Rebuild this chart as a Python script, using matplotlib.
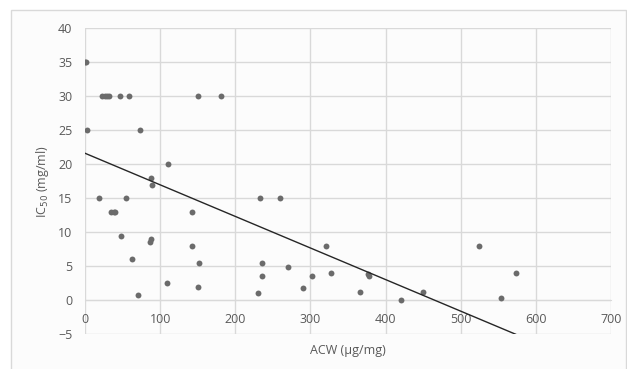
import numpy as np
import matplotlib.pyplot as plt
from matplotlib.patches import Rectangle

plt.rcParams['font.family'] = ['Open Sans', 'DejaVu Sans']

# ACW (µg/mg) vs IC50 (mg/ml)
acw = [0, 1, 22, 26, 29, 32, 47, 58, 151, 181,
       3, 73, 111, 88, 89, 19, 54, 233, 260,
       35, 38, 40, 143, 48, 88, 87, 142, 63, 152,
       71, 109, 151, 235, 270, 235, 230, 290, 302,
       321, 327, 377, 378, 366, 421, 450, 524, 554, 573]
ic50 = [35, 35, 30, 30, 30, 30, 30, 30, 30, 30,
        25, 25, 20, 18, 17, 15, 15, 15, 15,
        13, 13, 13, 13, 9.5, 9, 8.5, 8, 6, 5.5,
        0.8, 2.5, 2, 5.5, 4.9, 3.5, 1.1, 1.8, 3.5,
        8, 4, 3.8, 3.5, 1.2, 0, 1.2, 8, 0.4, 4]

# linear trendline
trend_intercept = 21.6
trend_slope = -0.0464

xticks = [0, 100, 200, 300, 400, 500, 600, 700]
yticks = [-5, 0, 5, 10, 15, 20, 25, 30, 35, 40]

fig = plt.figure(figsize=(6.27, 3.69), dpi=100)
fig.patches.append(Rectangle((11 / 627, -0.05), 615 / 627, 1 - 10 / 369 + 0.05,
                             transform=fig.transFigure, facecolor='#fcfcfc',
                             edgecolor='#d9d9d9', linewidth=1, zorder=-5))
ax = fig.add_axes([85 / 627, 1 - 334.3 / 369, 526 / 627, 306.3 / 369])
ax.patch.set_alpha(0)

ax.scatter(acw, ic50, s=18, color='#6b6b6b', zorder=3, linewidths=0)

xl = np.array([min(acw), max(acw)])
ax.plot(xl, trend_slope * xl + trend_intercept, color='#262626', linewidth=1, zorder=4)

ax.set_xlim(0, 700)
ax.set_ylim(-5, 40)
ax.set_xticks(xticks)
ax.set_yticks(yticks)
ax.grid(True, color='#d9d9d9', linewidth=1)
ax.set_axisbelow(True)

for s in ['top', 'right', 'left']:
    ax.spines[s].set_visible(False)
ax.spines['bottom'].set_position(('data', 0))
ax.spines['bottom'].set_color('#d9d9d9')
ax.tick_params(length=0, labelsize=9, labelcolor='#595959', pad=9)

ax.set_xlabel('ACW (µg/mg)', fontsize=9, color='#595959')
ax.xaxis.set_label_coords(0.5, -0.032)
ax.set_ylabel('IC$_{50}$ (mg/ml)', fontsize=9, color='#595959')
ax.yaxis.set_label_coords(-0.065, 0.5)

fig.savefig('out.png', dpi=100)
